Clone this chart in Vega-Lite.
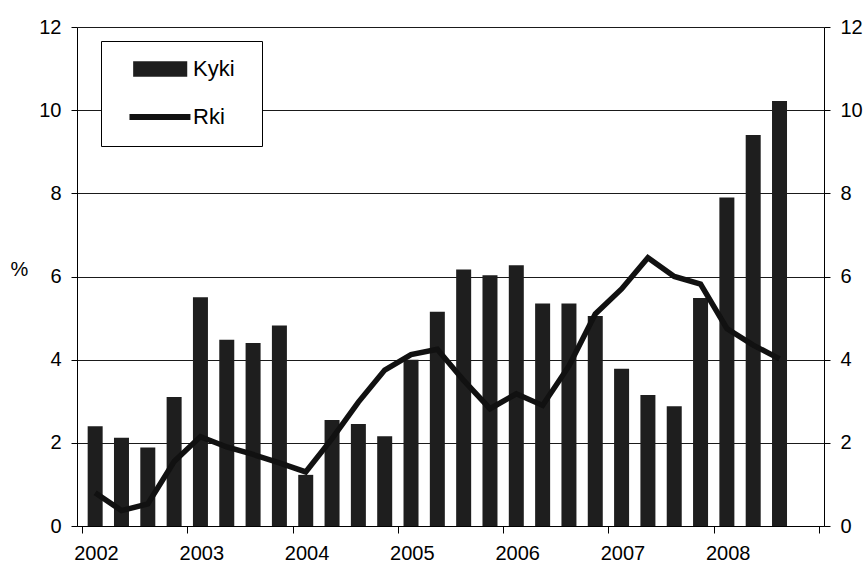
{
  "$schema": "https://vega.github.io/schema/vega-lite/v6.json",
  "width": 747,
  "height": 499,
  "autosize": {"type": "none"},
  "padding": {"left": 77, "top": 27, "right": 39, "bottom": 39},
  "background": "white",
  "config": {
    "view": {"stroke": null},
    "font": "Liberation Sans",
    "axis": {
      "domainColor": "#000000",
      "domainWidth": 1,
      "tickColor": "#000000",
      "labelColor": "#000000",
      "labelFontSize": 20,
      "labelFont": "Liberation Sans",
      "titleFont": "Liberation Sans",
      "titleColor": "#000000"
    }
  },
  "data": {
    "values": [
      {"t": 2002.125, "kyki": 2.40, "rki": 0.80},
      {"t": 2002.375, "kyki": 2.12, "rki": 0.37},
      {"t": 2002.625, "kyki": 1.89, "rki": 0.53},
      {"t": 2002.875, "kyki": 3.10, "rki": 1.55},
      {"t": 2003.125, "kyki": 5.50, "rki": 2.15},
      {"t": 2003.375, "kyki": 4.48, "rki": 1.90},
      {"t": 2003.625, "kyki": 4.40, "rki": 1.72},
      {"t": 2003.875, "kyki": 4.82, "rki": 1.52},
      {"t": 2004.125, "kyki": 1.23, "rki": 1.30},
      {"t": 2004.375, "kyki": 2.55, "rki": 2.10},
      {"t": 2004.625, "kyki": 2.45, "rki": 2.98},
      {"t": 2004.875, "kyki": 2.16, "rki": 3.75},
      {"t": 2005.125, "kyki": 4.00, "rki": 4.12},
      {"t": 2005.375, "kyki": 5.15, "rki": 4.25},
      {"t": 2005.625, "kyki": 6.17, "rki": 3.50},
      {"t": 2005.875, "kyki": 6.03, "rki": 2.82},
      {"t": 2006.125, "kyki": 6.27, "rki": 3.18},
      {"t": 2006.375, "kyki": 5.35, "rki": 2.90},
      {"t": 2006.625, "kyki": 5.35, "rki": 3.85},
      {"t": 2006.875, "kyki": 5.05, "rki": 5.10},
      {"t": 2007.125, "kyki": 3.78, "rki": 5.70},
      {"t": 2007.375, "kyki": 3.15, "rki": 6.45},
      {"t": 2007.625, "kyki": 2.88, "rki": 6.00},
      {"t": 2007.875, "kyki": 5.48, "rki": 5.82},
      {"t": 2008.125, "kyki": 7.90, "rki": 4.75},
      {"t": 2008.375, "kyki": 9.40, "rki": 4.35},
      {"t": 2008.625, "kyki": 10.22, "rki": 4.02}
    ]
  },
  "layer": [
    {
      "mark": {"type": "bar", "size": 15},
      "encoding": {
        "x": {
          "field": "t",
          "type": "quantitative",
          "scale": {"domain": [2002, 2009], "nice": false, "zero": false},
          "axis": {
            "title": null,
            "values": [2002, 2003, 2004, 2005, 2006, 2007, 2008, 2009],
            "format": "d",
            "labelExpr": "datum.value < 2009 ? datum.label : ''",
            "labelOffset": 14,
            "labelFlush": false,
            "labelOverlap": false,
            "labelBound": false,
            "tickSize": 7,
            "labelPadding": 10,
            "grid": false
          }
        },
        "y": {
          "field": "kyki",
          "type": "quantitative",
          "scale": {"domain": [0, 12], "nice": false},
          "axis": {
            "title": "%",
            "titleAngle": 0,
            "titleAlign": "center",
            "titleBaseline": "middle",
            "titleX": -58,
            "titleY": 242,
            "titleFontSize": 20,
            "titleFontWeight": "normal",
            "values": [0, 2, 4, 6, 8, 10, 12],
            "tickSize": 6,
            "labelPadding": 10,
            "grid": true,
            "gridColor": "#1a1a1a",
            "gridWidth": 1,
            "gridOpacity": 1
          }
        },
        "color": {
          "datum": "Kyki",
          "scale": {"domain": ["Kyki", "Rki"], "range": ["#1e1e1e", "#111111"]},
          "legend": {
            "title": null,
            "orient": "none",
            "legendX": 24,
            "legendY": 14,
            "padding": 17,
            "strokeColor": "#000000",
            "fillColor": "#ffffff",
            "labelFontSize": 22,
            "labelFont": "Liberation Sans",
            "labelColor": "#000000",
            "labelOffset": 53,
            "symbolSize": 1024,
            "rowPadding": 25,
            "encode": {
              "symbols": {
                "update": {
                  "shape": {"signal": "datum.value == 'Kyki' ? 'M0.26,-0.49H3.64V0.49H0.26Z M6.47,0' : 'M0.03,0H3.84 M6.47,0'"},
                  "fill": {"signal": "datum.value == 'Kyki' ? '#111111' : 'transparent'"},
                  "stroke": {"value": "#111111"},
                  "strokeWidth": {"signal": "datum.value == 'Kyki' ? 0 : 6"},
                  "size": {"value": 1024},
                  "opacity": {"value": 1}
                }
              }
            }
          }
        }
      }
    },
    {
      "mark": {"type": "line", "strokeWidth": 5.5},
      "encoding": {
        "x": {"field": "t", "type": "quantitative"},
        "y": {
          "field": "rki",
          "type": "quantitative",
          "scale": {"domain": [0, 12], "nice": false},
          "axis": {
            "orient": "right",
            "title": null,
            "values": [0, 2, 4, 6, 8, 10, 12],
            "tickSize": 6,
            "labelPadding": 10,
            "grid": false
          }
        },
        "color": {"datum": "Rki"}
      }
    }
  ],
  "resolve": {"scale": {"y": "independent"}}
}
